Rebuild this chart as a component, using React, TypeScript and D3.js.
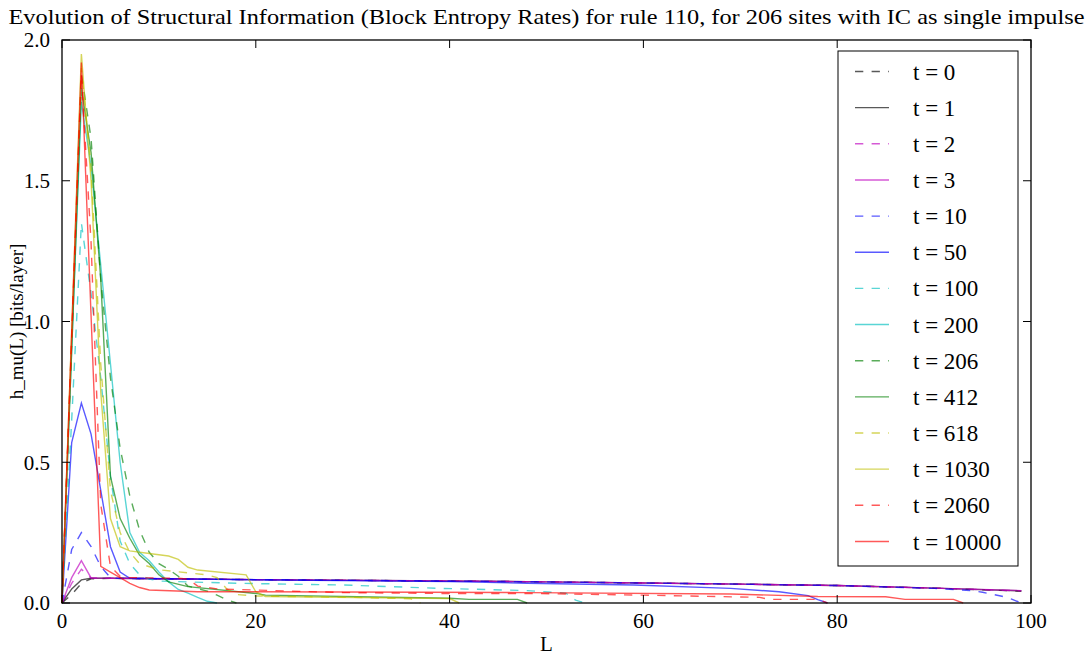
import React from "react";
import * as d3 from "d3";

type Pt = [number, number];

// Series values: [L, h_mu(L)]
const t0: Pt[] = [[0,0],[1,0.03],[2,0.07],[3,0.086],[5,0.088],[20,0.083],[40,0.078],[50,0.075],[60,0.071],[70,0.067],[80,0.062],[90,0.053],[99,0.042]];
const t1: Pt[] = [[0,0],[1,0.05],[2,0.082],[3,0.088],[5,0.088],[20,0.083],[40,0.078],[50,0.075],[60,0.071],[70,0.067],[80,0.062],[90,0.053],[99,0.043]];
const t2: Pt[] = [[0,0],[1,0.07],[2,0.12],[3,0.089],[5,0.088],[20,0.083],[40,0.078],[50,0.075],[60,0.071],[70,0.067],[80,0.062],[90,0.053],[99,0.043]];
const t3: Pt[] = [[0,0],[1,0.09],[2,0.15],[3,0.089],[5,0.088],[20,0.083],[40,0.078],[50,0.075],[60,0.071],[70,0.067],[80,0.062],[90,0.053],[99,0.044]];
const t10: Pt[] = [[0,0],[1,0.19],[2,0.25],[3,0.2],[4,0.13],[5,0.09],[6,0.087],[20,0.083],[40,0.078],[50,0.075],[60,0.071],[70,0.067],[80,0.062],[90,0.052],[94,0.044],[95,0.038],[97,0.024],[98,0.014],[99,0]];
const t50: Pt[] = [[0,0],[1,0.57],[2,0.71],[3,0.6],[4,0.4],[5,0.2],[6,0.11],[7,0.088],[20,0.082],[40,0.076],[48,0.07],[59,0.064],[69,0.052],[74,0.04],[77,0.026],[78,0.012],[79,0]];
const t100: Pt[] = [[0,0],[1,0.65],[2,1.35],[3,1.1],[4,0.8],[5,0.45],[6,0.22],[7,0.14],[8,0.1],[9,0.085],[10,0.078],[18,0.07],[29,0.064],[39,0.052],[48,0.044],[52,0.035],[53,0.01],[54,0]];
const t200: Pt[] = [[0,0],[1,0.9],[2,1.78],[3,1.55],[4,1.2],[5,0.85],[6,0.5],[7,0.25],[8,0.18],[9,0.15],[10,0.11],[11,0.075],[12,0.048],[13,0.035],[14,0.02],[15,0.006],[16,0]];
const t206: Pt[] = [[0,0],[1,0.93],[2,1.88],[3,1.65],[4,1.15],[5,0.8],[6,0.55],[7,0.38],[8,0.26],[9,0.18],[10,0.14],[11,0.12],[12,0.095],[13,0.06],[15,0.042],[16,0.028],[17,0.012],[18,0]];
const t412: Pt[] = [[0,0],[1,0.9],[2,1.83],[3,1.6],[4,1.15],[5,0.45],[6,0.3],[7,0.23],[8,0.17],[9,0.14],[10,0.1],[11,0.075],[13,0.058],[20,0.034],[21,0.028],[40,0.017],[42,0.013],[47,0.013],[48,0]];
const t618: Pt[] = [[0,0],[1,0.94],[2,1.9],[3,1.55],[4,0.85],[5,0.4],[6,0.25],[7,0.18],[8,0.14],[10,0.118],[15,0.1],[16,0.09],[17,0.05],[18,0.03],[20,0.025],[30,0.02],[36,0.015],[37,0]];
const t1030: Pt[] = [[0,0],[1,0.97],[2,1.95],[3,1.5],[4,0.75],[5,0.3],[6,0.2],[7,0.185],[9,0.176],[11,0.167],[12,0.155],[13,0.127],[14,0.117],[19,0.1],[20,0.04],[21,0.023],[40,0.016],[41,0]];
const t2060: Pt[] = [[0,0],[1,0.94],[2,1.88],[3,1.28],[4,0.35],[5,0.13],[6,0.095],[7,0.09],[12,0.088],[13,0.085],[14,0.06],[16,0.05],[20,0.046],[29,0.037],[39,0.034],[48,0.034],[60,0.028],[72,0.02],[73,0.013],[78,0.013],[79,0]];
const t10000: Pt[] = [[0,0],[1,0.96],[2,1.92],[3,1.02],[4,0.13],[5,0.11],[6,0.09],[7,0.07],[8,0.055],[9,0.046],[14,0.04],[20,0.04],[48,0.037],[69,0.032],[78,0.023],[85,0.022],[87,0.013],[92,0.013],[93,0]];

const seriesLabels = ["t = 0","t = 1","t = 2","t = 3","t = 10","t = 50","t = 100","t = 200","t = 206","t = 412","t = 618","t = 1030","t = 2060","t = 10000"];
const seriesData: Pt[][] = [t0,t1,t2,t3,t10,t50,t100,t200,t206,t412,t618,t1030,t2060,t10000];
const seriesColors = ["#000000","#000000","#bf00bf","#bf00bf","#0000ff","#0000ff","#00bfbf","#00bfbf","#008000","#008000","#bfbf00","#bfbf00","#ff0000","#ff0000"];
const seriesDashed = [true,false,true,false,true,false,true,false,true,false,true,false,true,false];

const xTicks = [0, 20, 40, 60, 80, 100];
const yTicks = [0, 0.5, 1.0, 1.5, 2.0];

const W = 1086, H = 658;
const FONT = "'Liberation Serif', 'Times New Roman', serif";

export default function App() {
  const x = d3.scaleLinear().domain([0, 100]).range([62, 1031]);
  const y = d3.scaleLinear().domain([0, 2]).range([603, 40]);
  const line = d3.line<Pt>().x(d => x(d[0])).y(d => y(d[1]));
  const [x0, x1] = x.range();
  const [y0, y1] = y.range();
  const tl = 8;
  const legX = 838, legY = 51, legW = 180, legH = 515;
  const rowH = 36.15;

  return (
    <div style={{ position: "absolute", left: 0, top: 0 }}>
      <svg width={W} height={H} style={{ display: "block", background: "#fff" }} fontFamily={FONT}>
        <rect x={0} y={0} width={W} height={H} fill="#fff" />
        <text x={(x0 + x1) / 2} y={24} textAnchor="middle" fontSize={21} textLength={1076} lengthAdjust="spacingAndGlyphs">
          Evolution of Structural Information (Block Entropy Rates) for rule 110, for 206 sites with IC as single impulse
        </text>
        <g>
          {seriesData.map((d, i) => (
            <path key={i} d={line(d) || ""} fill="none" stroke={seriesColors[i]} strokeOpacity={0.65}
              strokeWidth={1.4} strokeDasharray={seriesDashed[i] ? "8.3,8.3" : undefined} />
          ))}
        </g>
        <rect x={x0} y={y1} width={x1 - x0} height={y0 - y1} fill="none" stroke="#000" strokeWidth={1.3} />
        {xTicks.map(t => (
          <g key={"x" + t}>
            <line x1={x(t)} x2={x(t)} y1={y0} y2={y0 - tl} stroke="#000" strokeWidth={1} />
            <line x1={x(t)} x2={x(t)} y1={y1} y2={y1 + tl} stroke="#000" strokeWidth={1} />
            <text x={x(t)} y={y0 + 25} textAnchor="middle" fontSize={21}>{t}</text>
          </g>
        ))}
        {yTicks.map(t => (
          <g key={"y" + t}>
            <line x1={x0} x2={x0 + tl} y1={y(t)} y2={y(t)} stroke="#000" strokeWidth={1} />
            <line x1={x1} x2={x1 - tl} y1={y(t)} y2={y(t)} stroke="#000" strokeWidth={1} />
            <text x={x0 - 12} y={y(t)} dy="0.35em" textAnchor="end" fontSize={21}>{t.toFixed(1)}</text>
          </g>
        ))}
        <text x={(x0 + x1) / 2} y={651} textAnchor="middle" fontSize={21}>L</text>
        <text transform={`translate(23,${(y0 + y1) / 2}) rotate(-90)`} textAnchor="middle" fontSize={19}>h_mu(L) [bits/layer]</text>
        <rect x={legX} y={legY} width={legW} height={legH} fill="#fff" stroke="#000" strokeWidth={1} />
        {seriesLabels.map((lab, i) => {
          const cy = legY + 20.5 + i * rowH;
          return (
            <g key={"l" + i}>
              <line x1={855} x2={889} y1={cy} y2={cy} stroke={seriesColors[i]} strokeOpacity={0.65} strokeWidth={1.4}
                strokeDasharray={seriesDashed[i] ? "8.3,8.3" : undefined} />
              <text x={913} y={cy} dy="0.35em" fontSize={23}>{lab}</text>
            </g>
          );
        })}
      </svg>
    </div>
  );
}
